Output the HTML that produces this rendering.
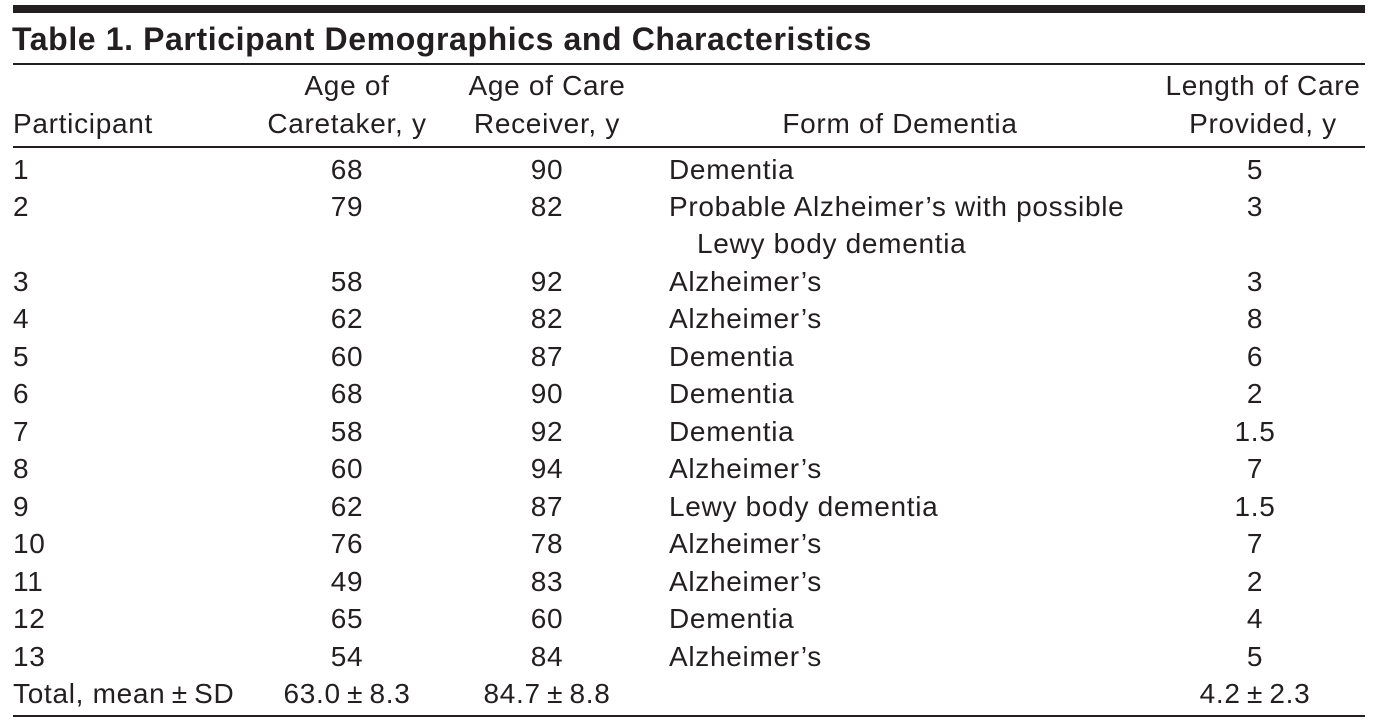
<!DOCTYPE html>
<html><head><meta charset="utf-8"><style>
body{margin:0;background:#fff;width:1378px;height:726px;position:relative;overflow:hidden;font-family:"Liberation Sans",sans-serif;color:#231f20}
.r{position:absolute;height:34px;line-height:34px;font-size:28px;letter-spacing:0.7px;white-space:nowrap}
.c{transform:translateX(-50%)}
.ln{position:absolute;left:13px;width:1352px;background:#231f20}
</style></head><body>
<div class="ln" style="top:5px;height:8px"></div>
<div class="r" style="left:12px;top:20px;height:38px;line-height:38px;font-weight:bold;font-size:32px;letter-spacing:0.6px">Table 1. Participant Demographics and Characteristics</div>
<div class="ln" style="top:63px;height:2px"></div>
<div class="r" style="left:13px;top:107px">Participant</div>
<div class="r c" style="left:347px;top:69px">Age of</div>
<div class="r c" style="left:347px;top:107px">Caretaker, y</div>
<div class="r c" style="left:547px;top:69px">Age of Care</div>
<div class="r c" style="left:547px;top:107px">Receiver, y</div>
<div class="r c" style="left:900px;top:107px">Form of Dementia</div>
<div class="r c" style="left:1263px;top:69px">Length of Care</div>
<div class="r c" style="left:1263px;top:107px">Provided, y</div>
<div class="ln" style="top:146px;height:2px"></div>
<div id="rows"></div>
<div class="ln" style="top:715px;height:2px"></div>
<script>
const PM="\u2009±\u2009";
const totalLabel="Total, mean"+PM+"SD";
const totalCaretaker="63.0"+PM+"8.3";
const totalReceiver="84.7"+PM+"8.8";
const totalLength="4.2"+PM+"2.3";
const ids=["1","2","3","4","5","6","7","8","9","10","11","12","13",totalLabel];
const caretaker=["68","79","58","62","60","68","58","60","62","76","49","65","54",totalCaretaker];
const receiver=["90","82","92","82","87","90","92","94","87","78","83","60","84",totalReceiver];
const forms=["Dementia","Probable Alzheimer’s with possible","Alzheimer’s","Alzheimer’s","Dementia","Dementia","Dementia","Alzheimer’s","Lewy body dementia","Alzheimer’s","Alzheimer’s","Dementia","Alzheimer’s",""];
const lengths=["5","3","3","8","6","2","1.5","7","1.5","7","2","4","5",totalLength];
const rowY=[170,207,282,319,357,394,432,469,507,544,582,619,657,694];
const host=document.getElementById('rows');
function add(txt,x,y,center,name){
  const d=document.createElement('div');
  d.className='r'+(center?' c':'');
  d.style.left=x+'px';d.style.top=(y-17)+'px';d.textContent=txt;
  
  
  host.appendChild(d);
}
ids.forEach((id,i)=>{
  const y=rowY[i];
  add(id,13,y,false,'participant-id');
  add(caretaker[i],347,y,true,'caretaker-age');
  add(receiver[i],547,y,true,'receiver-age');
  if(forms[i])add(forms[i],669,y,false,'dementia-form');
  add(lengths[i],1255,y,true,'care-length');
});
add("Lewy body dementia",697,244,false,'dementia-form-continued');
</script>
</body></html>
